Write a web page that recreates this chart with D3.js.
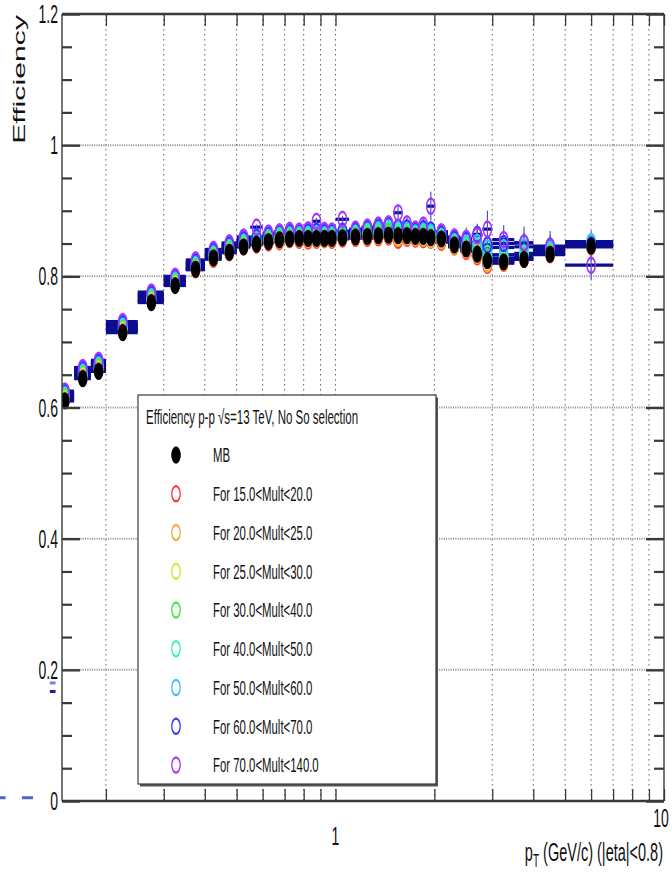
<!DOCTYPE html>
<html>
<head>
<meta charset="utf-8">
<script src="https://cdn.jsdelivr.net/npm/d3@7"></script>
<style>
  body { margin: 0; background: #fff; }
  text { font-family: "Liberation Sans", Arial, Helvetica, sans-serif; fill: #111; }
</style>
</head>
<body>
<script>
// Data
//= ================================
// pT bins (GeV/c)
let binLo = [0.14, 0.16, 0.18, 0.2, 0.25, 0.3, 0.35, 0.4, 0.45, 0.5, 0.55, 0.6, 0.65, 0.7, 0.75, 0.8, 0.85, 0.9, 0.95, 1.0,
  1.1, 1.2, 1.3, 1.4, 1.5, 1.6, 1.7, 1.8, 1.9, 2.0, 2.2, 2.4, 2.6, 2.8, 3.0, 3.5, 4.0, 5.0];
let binHi = [0.16, 0.18, 0.2, 0.25, 0.3, 0.35, 0.4, 0.45, 0.5, 0.55, 0.6, 0.65, 0.7, 0.75, 0.8, 0.85, 0.9, 0.95, 1.0, 1.1,
  1.2, 1.3, 1.4, 1.5, 1.6, 1.7, 1.8, 1.9, 2.0, 2.2, 2.4, 2.6, 2.8, 3.0, 3.5, 4.0, 5.0, 7.0];
let ptCenter = [0.15, 0.17, 0.19, 0.225, 0.275, 0.325, 0.375, 0.425, 0.475, 0.525, 0.575, 0.625, 0.675, 0.725, 0.775, 0.825, 0.875, 0.925, 0.975, 1.05,
  1.15, 1.25, 1.35, 1.45, 1.55, 1.65, 1.75, 1.85, 1.95, 2.1, 2.3, 2.5, 2.7, 2.9, 3.25, 3.75, 4.5, 6.0];

// efficiency per multiplicity class
let effMB = [0.610, 0.644, 0.655, 0.714, 0.760, 0.786, 0.811, 0.828, 0.837, 0.845, 0.849, 0.853, 0.856, 0.857, 0.858, 0.858, 0.858, 0.858, 0.858, 0.859,
  0.860, 0.861, 0.862, 0.863, 0.862, 0.862, 0.861, 0.861, 0.859, 0.857, 0.848, 0.842, 0.834, 0.824, 0.822, 0.826, 0.834, 0.846];
let eff15 = [0.612, 0.647, 0.658, 0.717, 0.762, 0.787, 0.810, 0.826, 0.836, 0.845, 0.848, 0.851, 0.853, 0.856, 0.855, 0.854, 0.855, 0.856, 0.855, 0.857,
  0.858, 0.858, 0.859, 0.860, 0.855, 0.858, 0.857, 0.856, 0.855, 0.852, 0.845, 0.838, 0.830, 0.817, 0.820, 0.826, 0.833, 0.845];
let eff20 = [0.613, 0.648, 0.659, 0.718, 0.763, 0.788, 0.812, 0.828, 0.838, 0.846, 0.850, 0.853, 0.855, 0.857, 0.857, 0.856, 0.857, 0.857, 0.857, 0.859,
  0.860, 0.860, 0.861, 0.862, 0.858, 0.860, 0.859, 0.858, 0.856, 0.854, 0.846, 0.840, 0.832, 0.819, 0.821, 0.828, 0.835, 0.846];
let eff25 = [0.615, 0.650, 0.661, 0.720, 0.765, 0.790, 0.814, 0.830, 0.840, 0.848, 0.852, 0.855, 0.857, 0.859, 0.859, 0.859, 0.859, 0.859, 0.859, 0.861,
  0.862, 0.863, 0.864, 0.865, 0.862, 0.863, 0.862, 0.861, 0.859, 0.857, 0.849, 0.843, 0.838, 0.826, 0.825, 0.830, 0.837, 0.848];
let eff30 = [0.617, 0.652, 0.663, 0.722, 0.767, 0.792, 0.816, 0.832, 0.842, 0.850, 0.854, 0.857, 0.860, 0.861, 0.861, 0.861, 0.861, 0.861, 0.861, 0.863,
  0.864, 0.865, 0.866, 0.867, 0.865, 0.865, 0.864, 0.864, 0.862, 0.859, 0.851, 0.846, 0.841, 0.830, 0.828, 0.832, 0.838, 0.849];
let eff40 = [0.619, 0.654, 0.665, 0.724, 0.769, 0.794, 0.818, 0.834, 0.844, 0.852, 0.856, 0.859, 0.862, 0.863, 0.863, 0.863, 0.864, 0.863, 0.863, 0.865,
  0.866, 0.868, 0.869, 0.871, 0.868, 0.868, 0.866, 0.867, 0.865, 0.861, 0.853, 0.848, 0.846, 0.835, 0.833, 0.835, 0.840, 0.851];
let eff50 = [0.621, 0.656, 0.667, 0.726, 0.771, 0.796, 0.820, 0.836, 0.846, 0.854, 0.858, 0.861, 0.864, 0.865, 0.865, 0.866, 0.866, 0.865, 0.865, 0.867,
  0.868, 0.871, 0.872, 0.876, 0.872, 0.871, 0.868, 0.870, 0.868, 0.863, 0.855, 0.850, 0.852, 0.843, 0.844, 0.845, 0.842, 0.853];
let eff60 = [0.623, 0.658, 0.669, 0.728, 0.773, 0.798, 0.822, 0.838, 0.848, 0.856, 0.860, 0.863, 0.866, 0.867, 0.867, 0.868, 0.869, 0.867, 0.867, 0.869,
  0.870, 0.873, 0.875, 0.878, 0.875, 0.874, 0.870, 0.873, 0.871, 0.865, 0.857, 0.855, 0.864, 0.848, 0.850, 0.851, 0.846, 0.848];
let eff70 = [0.625, 0.661, 0.672, 0.731, 0.776, 0.800, 0.825, 0.841, 0.851, 0.860, 0.875, 0.866, 0.868, 0.870, 0.869, 0.871, 0.884, 0.870, 0.869, 0.887,
  0.872, 0.875, 0.878, 0.880, 0.897, 0.880, 0.872, 0.878, 0.907, 0.868, 0.860, 0.858, 0.862, 0.872, 0.856, 0.851, 0.845, 0.817];

// statistical errors
let errMB = [0.001, 0.001, 0.001, 0.001, 0.001, 0.001, 0.001, 0.001, 0.001, 0.001, 0.001, 0.001, 0.001, 0.001, 0.001, 0.001, 0.001, 0.001, 0.001, 0.001,
  0.001, 0.001, 0.001, 0.001, 0.002, 0.002, 0.002, 0.002, 0.002, 0.002, 0.002, 0.002, 0.003, 0.003, 0.003, 0.004, 0.004, 0.005];
let err15 = [0.002, 0.002, 0.002, 0.002, 0.002, 0.002, 0.002, 0.002, 0.002, 0.002, 0.002, 0.002, 0.002, 0.002, 0.002, 0.002, 0.002, 0.002, 0.002, 0.002,
  0.002, 0.002, 0.003, 0.003, 0.003, 0.003, 0.003, 0.003, 0.004, 0.004, 0.004, 0.005, 0.005, 0.006, 0.006, 0.007, 0.008, 0.010];
let err20 = [0.002, 0.002, 0.002, 0.002, 0.002, 0.002, 0.002, 0.002, 0.002, 0.002, 0.002, 0.002, 0.002, 0.002, 0.002, 0.002, 0.002, 0.002, 0.002, 0.002,
  0.003, 0.003, 0.003, 0.003, 0.003, 0.003, 0.004, 0.004, 0.004, 0.004, 0.005, 0.005, 0.006, 0.007, 0.007, 0.008, 0.009, 0.011];
let err25 = [0.002, 0.002, 0.002, 0.002, 0.002, 0.002, 0.002, 0.002, 0.002, 0.002, 0.002, 0.002, 0.002, 0.002, 0.002, 0.002, 0.003, 0.003, 0.003, 0.003,
  0.003, 0.003, 0.003, 0.004, 0.004, 0.004, 0.004, 0.004, 0.005, 0.005, 0.005, 0.006, 0.007, 0.008, 0.008, 0.009, 0.010, 0.012];
let err30 = [0.002, 0.002, 0.002, 0.002, 0.002, 0.002, 0.002, 0.002, 0.002, 0.002, 0.002, 0.002, 0.002, 0.002, 0.003, 0.003, 0.003, 0.003, 0.003, 0.003,
  0.003, 0.003, 0.004, 0.004, 0.004, 0.004, 0.005, 0.005, 0.005, 0.005, 0.006, 0.006, 0.007, 0.008, 0.008, 0.009, 0.010, 0.012];
let err40 = [0.003, 0.003, 0.003, 0.003, 0.003, 0.003, 0.003, 0.003, 0.003, 0.003, 0.003, 0.003, 0.003, 0.003, 0.003, 0.003, 0.003, 0.003, 0.003, 0.003,
  0.004, 0.004, 0.004, 0.005, 0.005, 0.005, 0.006, 0.006, 0.007, 0.006, 0.007, 0.008, 0.009, 0.010, 0.010, 0.011, 0.012, 0.014];
let err50 = [0.003, 0.003, 0.003, 0.003, 0.003, 0.003, 0.003, 0.003, 0.003, 0.003, 0.003, 0.003, 0.003, 0.003, 0.004, 0.004, 0.004, 0.004, 0.004, 0.004,
  0.004, 0.005, 0.005, 0.005, 0.006, 0.006, 0.007, 0.007, 0.008, 0.007, 0.008, 0.009, 0.011, 0.012, 0.012, 0.013, 0.014, 0.016];
let err60 = [0.003, 0.003, 0.003, 0.003, 0.003, 0.003, 0.003, 0.003, 0.003, 0.003, 0.003, 0.003, 0.003, 0.003, 0.004, 0.004, 0.004, 0.004, 0.004, 0.004,
  0.005, 0.005, 0.005, 0.006, 0.006, 0.007, 0.007, 0.008, 0.009, 0.008, 0.010, 0.011, 0.012, 0.014, 0.013, 0.015, 0.016, 0.018];
let err70 = [0.004, 0.004, 0.004, 0.003, 0.003, 0.003, 0.003, 0.003, 0.003, 0.004, 0.004, 0.004, 0.004, 0.004, 0.005, 0.005, 0.005, 0.005, 0.006, 0.005,
  0.006, 0.006, 0.007, 0.008, 0.009, 0.010, 0.011, 0.012, 0.022, 0.012, 0.014, 0.016, 0.018, 0.028, 0.022, 0.025, 0.024, 0.022];

let seriesNames = ['MB', 'For 15.0<Mult<20.0', 'For 20.0<Mult<25.0', 'For 25.0<Mult<30.0', 'For 30.0<Mult<40.0',
  'For 40.0<Mult<50.0', 'For 50.0<Mult<60.0', 'For 60.0<Mult<70.0', 'For 70.0<Mult<140.0'];
let seriesColors = ['#000000', '#ff3535', '#ffa535', '#c8f035', '#3ee63e', '#35f0b4', '#35c3ff', '#3535ff', '#a535ff'];
let seriesEff = [effMB, eff15, eff20, eff25, eff30, eff40, eff50, eff60, eff70];
let seriesErr = [errMB, err15, err20, err25, err30, err40, err50, err60, err70];

// stray points that fall outside the frame (drawn unclipped, as in the original)
let strayLo = [0.135, 0.135, 0.094, 0.111];
let strayHi = [0.1405, 0.1405, 0.099, 0.120];
let strayEff = [0.180, 0.167, 0.005, 0.005];
let strayColor = ['#7484e0', '#1c1ca6', '#5262d2', '#5262d2'];

let xTickValues = [0.2, 0.3, 0.4, 0.5, 0.6, 0.7, 0.8, 0.9, 1, 2, 3, 4, 5, 6, 7, 8, 9, 10];
let xLabelValues = [1, 10];
let yMajorValues = [0, 0.2, 0.4, 0.6, 0.8, 1.0, 1.2];
let yLabels = ['0', '0.2', '0.4', '0.6', '0.8', '1', '1.2'];

// Set up the frame
//= ================================
let svgWidth = 672;
let svgHeight = 875;
let frame = { left: 62, right: 664, top: 14, bottom: 801 };
let S = 1.8; // the picture is stretched vertically

let svg = d3.select("body")
  .append("svg")
  .attr("width", svgWidth)
  .attr("height", svgHeight);
svg.append("rect").attr("width", svgWidth).attr("height", svgHeight).attr("fill", "#fff");

let xScale = d3.scaleLog().domain([0.147, 10]).range([frame.left, frame.right]);
let yScale = d3.scaleLinear().domain([0, 1.2]).range([frame.bottom, frame.top]);

// stretched text helper
function sText(parent, x, y, str, size, anchor) {
  return parent.append("text")
    .attr("transform", `translate(${x},${y}) scale(1,${S})`)
    .attr("font-size", size)
    .attr("text-anchor", anchor)
    .attr("dy", "0.36em")
    .text(str);
}

// Grid lines
//= ================================
svg.append("g")
  .selectAll("line")
  .data(xTickValues.filter(d => d < 10))
  .enter()
  .append("line")
  .attr("x1", d => xScale(d)).attr("x2", d => xScale(d))
  .attr("y1", frame.top).attr("y2", frame.bottom)
  .attr("stroke", "#6a6a6a")
  .attr("stroke-width", 1)
  .attr("stroke-dasharray", "1.6,3.4");

svg.append("g")
  .selectAll("line")
  .data(yMajorValues.filter(d => d > 0 && d < 1.2))
  .enter()
  .append("line")
  .attr("x1", frame.left).attr("x2", frame.right)
  .attr("y1", d => yScale(d)).attr("y2", d => yScale(d))
  .attr("stroke", "#8a8a8a")
  .attr("stroke-width", 2)
  .attr("stroke-dasharray", "1,1.3");

// Data
//= ================================
svg.append("clipPath").attr("id", "frameClip")
  .append("rect")
  .attr("x", frame.left).attr("y", frame.top)
  .attr("width", frame.right - frame.left).attr("height", frame.bottom - frame.top);

let dataGroup = svg.append("g").attr("clip-path", "url(#frameClip)");

let points = [];
seriesEff.forEach(function(vals, s) {
  vals.forEach(function(v, i) {
    points.push({ s: s, pt: ptCenter[i], lo: binLo[i], hi: binHi[i], eff: v, err: seriesErr[s][i] });
  });
});

// x error bars (bin widths)
dataGroup.append("g")
  .selectAll("line")
  .data(points)
  .enter()
  .append("line")
  .attr("x1", d => xScale(d.lo)).attr("x2", d => xScale(d.hi))
  .attr("y1", d => yScale(d.eff)).attr("y2", d => yScale(d.eff))
  .attr("stroke", "#0c0c92")
  .attr("stroke-width", 3.2);

// y error bars
dataGroup.append("g")
  .selectAll("line")
  .data(points)
  .enter()
  .append("line")
  .attr("x1", d => xScale(d.pt)).attr("x2", d => xScale(d.pt))
  .attr("y1", d => yScale(d.eff - d.err)).attr("y2", d => yScale(d.eff + d.err))
  .attr("stroke", "#5050c4")
  .attr("stroke-width", 1.2);

// markers: colored open circles first, MB filled on top
let drawOrder = [1, 2, 3, 4, 5, 6, 7, 8, 0];
drawOrder.forEach(function(s) {
  dataGroup.append("g")
    .selectAll("g")
    .data(points.filter(d => d.s === s))
    .enter()
    .append("g")
    .attr("transform", d => `translate(${xScale(d.pt)},${yScale(d.eff)}) scale(1,${S})`)
    .append("circle")
    .attr("r", s === 0 ? 4.8 : 4.2)
    .attr("fill", s === 0 ? "#000" : "none")
    .attr("stroke", seriesColors[s])
    .attr("stroke-width", s === 0 ? 0 : 1.4);
});

// stray bars outside the frame
svg.append("g")
  .selectAll("line")
  .data(strayEff)
  .enter()
  .append("line")
  .attr("x1", (d, i) => xScale(strayLo[i])).attr("x2", (d, i) => xScale(strayHi[i]))
  .attr("y1", d => yScale(d)).attr("y2", d => yScale(d))
  .attr("stroke", (d, i) => strayColor[i])
  .attr("stroke-width", 3);

// Axes (ticks inside the frame, ROOT style)
//= ================================
let bottomAxis = d3.axisBottom(xScale).tickValues(xTickValues).tickSize(-12).tickFormat("");
let topAxis = d3.axisTop(xScale).tickValues(xTickValues).tickSize(-12).tickFormat("");
let leftMajor = d3.axisLeft(yScale).tickValues(yMajorValues).tickSize(-18).tickFormat("");
let rightMajor = d3.axisRight(yScale).tickValues(yMajorValues).tickSize(-18).tickFormat("");
let yMinorValues = d3.range(0, 1.2001, 0.05).filter(v => Math.abs(v / 0.2 - Math.round(v / 0.2)) > 1e-6);
let leftMinor = d3.axisLeft(yScale).tickValues(yMinorValues).tickSize(-10).tickFormat("");
let rightMinor = d3.axisRight(yScale).tickValues(yMinorValues).tickSize(-10).tickFormat("");

function styleAxis(g, width) {
  g.select(".domain").remove();
  g.selectAll(".tick line").attr("stroke", "#3a3a3a").attr("stroke-width", width);
}
svg.append("g").attr("transform", `translate(0,${frame.bottom})`).call(bottomAxis).call(g => styleAxis(g, 1.3));
svg.append("g").attr("transform", `translate(0,${frame.top})`).call(topAxis).call(g => styleAxis(g, 1.3));
svg.append("g").attr("transform", `translate(${frame.left},0)`).call(leftMajor).call(g => styleAxis(g, 2.4));
svg.append("g").attr("transform", `translate(${frame.left},0)`).call(leftMinor).call(g => styleAxis(g, 2.2));
svg.append("g").attr("transform", `translate(${frame.right},0)`).call(rightMajor).call(g => styleAxis(g, 2.4));
svg.append("g").attr("transform", `translate(${frame.right},0)`).call(rightMinor).call(g => styleAxis(g, 2.2));

// frame
svg.append("line").attr("x1", frame.left).attr("x2", frame.right).attr("y1", frame.top).attr("y2", frame.top)
  .attr("stroke", "#3a3a3a").attr("stroke-width", 2.4);
svg.append("line").attr("x1", frame.left).attr("x2", frame.right).attr("y1", frame.bottom).attr("y2", frame.bottom)
  .attr("stroke", "#3a3a3a").attr("stroke-width", 2.4);
svg.append("line").attr("x1", frame.left).attr("x2", frame.left).attr("y1", frame.top).attr("y2", frame.bottom)
  .attr("stroke", "#3a3a3a").attr("stroke-width", 1.4);
svg.append("line").attr("x1", frame.right).attr("x2", frame.right).attr("y1", frame.top).attr("y2", frame.bottom)
  .attr("stroke", "#3a3a3a").attr("stroke-width", 1.4);

// tick labels
yMajorValues.forEach(function(v, i) {
  sText(svg, 58, yScale(v), yLabels[i], 14, "end");
});
xLabelValues.forEach(function(v) {
  if (v === 10) sText(svg, xScale(v) - 3, 818, String(v), 14, "middle");
  else sText(svg, xScale(v), 836, String(v), 14, "middle");
});

// axis titles
svg.append("text")
  .attr("transform", `translate(25,15) rotate(-90) scale(${S},1)`)
  .attr("font-size", 16.8)
  .attr("text-anchor", "end")
  .text("Efficiency");

let xTitle = svg.append("text")
  .attr("transform", `translate(663,861) scale(1,${S})`)
  .attr("font-size", 14.5)
  .attr("text-anchor", "end");
xTitle.append("tspan").text("p");
xTitle.append("tspan").attr("font-size", 10).attr("dy", 3.5).text("T");
xTitle.append("tspan").attr("dy", -3.5).text(" (GeV/c) (|eta|<0.8)");

// Legend
//= ================================
let legend = { x: 138, y: 395, w: 298, h: 389 };
svg.append("rect")
  .attr("x", legend.x + 2).attr("y", legend.y + 2.5)
  .attr("width", legend.w).attr("height", legend.h)
  .attr("fill", "#555");
svg.append("rect")
  .attr("x", legend.x).attr("y", legend.y)
  .attr("width", legend.w).attr("height", legend.h)
  .attr("fill", "#fff")
  .attr("stroke", "#3a3a3a")
  .attr("stroke-width", 1.2);

sText(svg, 146, 417, "Efficiency p-p \u221As=13 TeV, No So selection", 11.5, "start");

let rowY = d3.scaleLinear().domain([0, 8]).range([455, 765]);
let legendRows = svg.append("g")
  .selectAll("g")
  .data(seriesNames)
  .enter()
  .append("g");

legendRows.append("g")
  .attr("transform", (d, i) => `translate(176,${rowY(i)}) scale(1,${S})`)
  .append("circle")
  .attr("r", (d, i) => i === 0 ? 4.8 : 4.2)
  .attr("fill", (d, i) => i === 0 ? "#000" : "none")
  .attr("stroke", (d, i) => seriesColors[i])
  .attr("stroke-width", (d, i) => i === 0 ? 0 : 1.3);

legendRows.each(function(d, i) {
  sText(d3.select(this), 213, rowY(i), d, 11.4, "start");
});
</script>
</body>
</html>
